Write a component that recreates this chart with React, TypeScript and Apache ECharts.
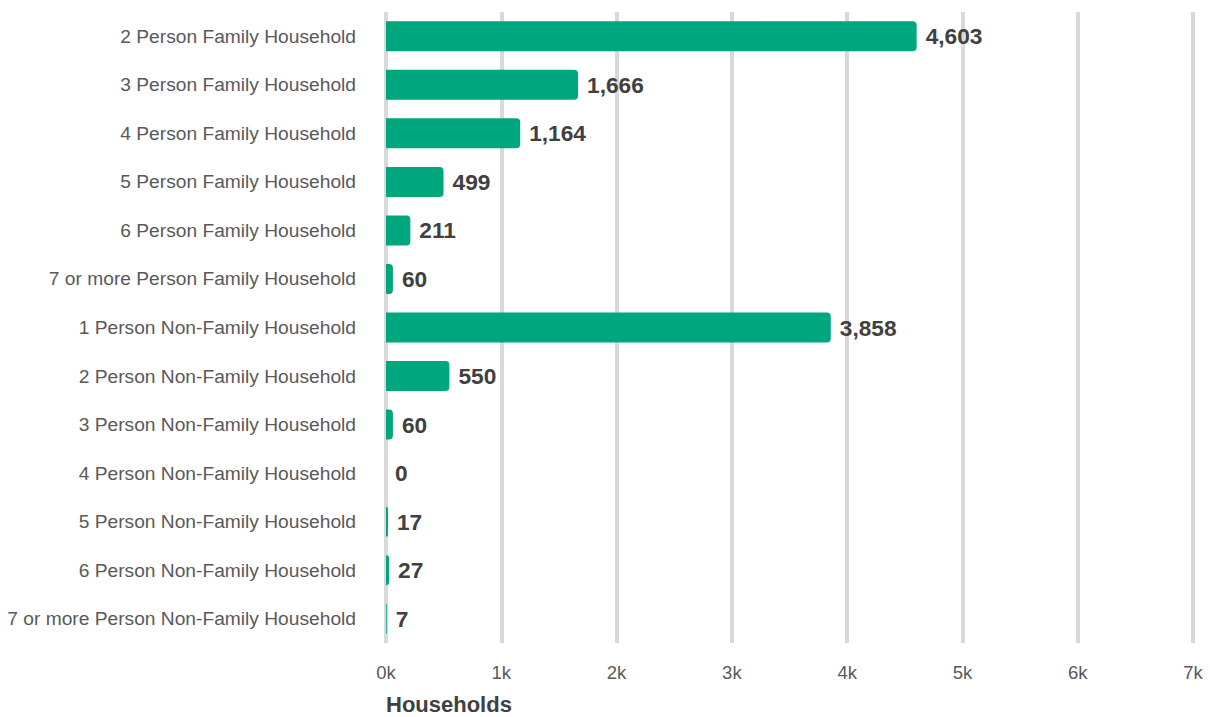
import React, { useEffect, useRef } from "react";
import * as echarts from "echarts";

const categories = [
  "2 Person Family Household",
  "3 Person Family Household",
  "4 Person Family Household",
  "5 Person Family Household",
  "6 Person Family Household",
  "7 or more Person Family Household",
  "1 Person Non-Family Household",
  "2 Person Non-Family Household",
  "3 Person Non-Family Household",
  "4 Person Non-Family Household",
  "5 Person Non-Family Household",
  "6 Person Non-Family Household",
  "7 or more Person Non-Family Household",
];
const households = [4603, 1666, 1164, 499, 211, 60, 3858, 550, 60, 0, 17, 27, 7];
const axisTitle = "Households";

export default function App() {
  const ref = useRef<HTMLDivElement>(null);
  useEffect(() => {
    const chart = echarts.init(ref.current!, null, { renderer: "svg" });
    chart.setOption({
      animation: false,
      grid: {
        left: 386,
        right: 17,
        top: 12,
        bottom: 74,
        containLabel: false,
        outerBoundsMode: "none",
      },
      xAxis: {
        type: "value",
        min: 0,
        max: 7000,
        interval: 1000,
        name: axisTitle,
        nameLocation: "start",
        nameGap: 0,
        nameTextStyle: {
          fontFamily: "Liberation Sans, Arial, sans-serif",
          fontSize: 22,
          fontWeight: "bold",
          color: "#404040",
          align: "left",
          verticalAlign: "top",
          padding: [50, 0, 0, 0],
        },
        axisLine: { show: false },
        axisTick: { show: false },
        splitLine: { show: true, lineStyle: { color: "#d9d9d9", width: 4 } },
        axisLabel: {
          margin: 20,
          fontFamily: "Liberation Sans, Arial, sans-serif",
          fontSize: 18.5,
          color: "#595959",
          formatter: (v: number) => v / 1000 + "k",
        },
      },
      yAxis: {
        type: "category",
        data: categories,
        inverse: true,
        axisLine: { show: false },
        axisTick: { show: false },
        axisLabel: {
          margin: 30,
          fontFamily: "Liberation Sans, Arial, sans-serif",
          fontSize: 19.2,
          color: "#595959",
        },
      },
      series: [
        {
          type: "bar",
          data: households,
          barWidth: 30,
          itemStyle: { color: "#00a67e", borderRadius: [0, 4, 4, 0] },
          label: {
            show: true,
            position: "right",
            distance: 9,
            fontFamily: "Liberation Sans, Arial, sans-serif",
            fontSize: 22.7,
            fontWeight: "bold",
            color: "#404040",
            formatter: (p: any) => Number(p.value).toLocaleString("en-US"),
          },
        },
      ],
    });
    return () => chart.dispose();
  }, []);
  return (
    <div
      ref={ref}
      style={{ position: "absolute", left: 0, top: 0, width: 1210, height: 717 }}
    />
  );
}
